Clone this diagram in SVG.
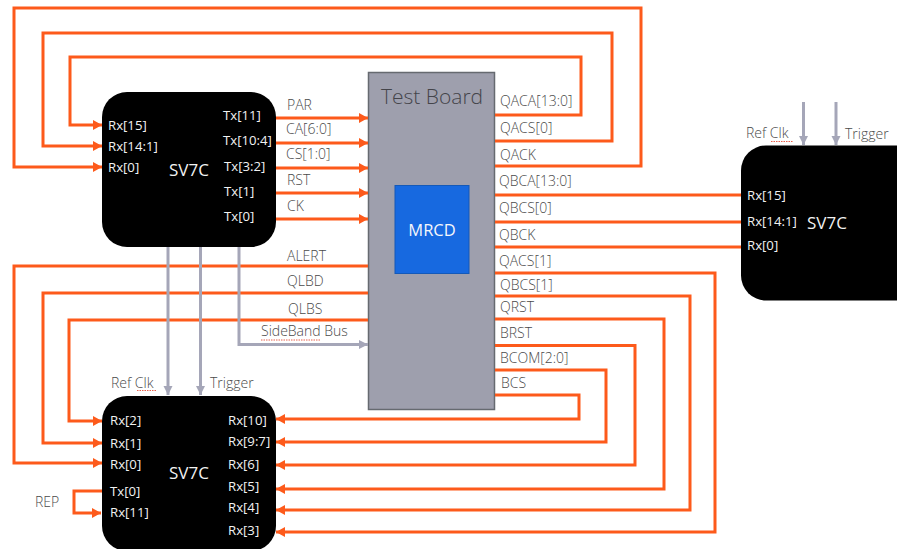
<svg xmlns="http://www.w3.org/2000/svg" width="897" height="549" viewBox="0 0 897 549">
<style>
text{font-family:"Open Sans","Noto Sans","Liberation Sans",sans-serif;font-size:13.200px}
.l{fill:#4a4a4a;font-size:14px;font-weight:300}
.w{fill:#f2f2f2}
.o{fill:none;stroke:#fd5a1b;stroke-width:3;stroke-linejoin:miter}
.g{fill:none;stroke:#a5a6b8;stroke-width:3}
.s{fill:none;stroke:#e8604c;stroke-width:1;stroke-dasharray:1.500 1}
.box{fill:#000}
</style>
<defs>
<marker id="ao" markerUnits="userSpaceOnUse" markerWidth="12" markerHeight="12" refX="10" refY="6" orient="auto"><path d="M1 1 L10 6 L1 11Z" fill="#fd5a1b"/></marker>
<marker id="ag" markerUnits="userSpaceOnUse" markerWidth="12" markerHeight="12" refX="10" refY="5" orient="auto"><path d="M1 0.500 L10 5 L1 9.500Z" fill="#a5a6b8"/></marker>
</defs>
<g id="board"><rect x="368.500" y="72.500" width="126" height="337" fill="#9e9fad" stroke="#666a70" stroke-width="1.500"/>
<text x="381" y="104" style="font-size:21px;font-weight:300" fill="#44444a">Test Board</text></g>
<g id="mrcd"><rect x="395" y="185.500" width="74" height="88" fill="#1769e0" stroke="#1459b8"/>
<text x="432" y="236" text-anchor="middle" style="font-size:16.500px" fill="#f4f6fb">MRCD</text></g>
<g id="sv7c-top"><rect x="102" y="92" width="174" height="155" rx="25" class="box"/>
<text x="189" y="176" text-anchor="middle" style="font-size:17px" class="w">SV7C</text>
<text x="108" y="130" class="w">Rx[15]</text><text x="108" y="151" class="w">Rx[14:1]</text><text x="108" y="172" class="w">Rx[0]</text>
<text x="223" y="120" class="w">Tx[11]</text><text x="223" y="145" class="w">Tx[10:4]</text><text x="224" y="171" class="w">Tx[3:2]</text><text x="224" y="196" class="w">Tx[1]</text><text x="224" y="221" class="w">Tx[0]</text></g>
<g id="sv7c-right"><rect x="741" y="145.500" width="190" height="155" rx="25" class="box"/>
<text x="827" y="229" text-anchor="middle" style="font-size:17px" class="w">SV7C</text>
<text x="747" y="200" class="w">Rx[15]</text><text x="747" y="226" class="w">Rx[14:1]</text><text x="747" y="250" class="w">Rx[0]</text></g>
<g id="sv7c-bottom"><rect x="102" y="396" width="174" height="155" rx="25" class="box"/>
<text x="189" y="479" text-anchor="middle" style="font-size:17px" class="w">SV7C</text>
<text x="110" y="425" class="w">Rx[2]</text><text x="110" y="448" class="w">Rx[1]</text><text x="110" y="469" class="w">Rx[0]</text><text x="110" y="496" class="w">Tx[0]</text><text x="110" y="517" class="w">Rx[11]</text>
<text x="228" y="425" class="w">Rx[10]</text><text x="228" y="446" class="w">Rx[9:7]</text><text x="228" y="469" class="w">Rx[6]</text><text x="228" y="491" class="w">Rx[5]</text><text x="228" y="512" class="w">Rx[4]</text><text x="228" y="535" class="w">Rx[3]</text></g>
<g id="connectors">
<path class="o" marker-end="url(#ao)" d="M495 166H641V8H14V167H102"/>
<path class="o" marker-end="url(#ao)" d="M495 141H612V33H43V146H102"/>
<path class="o" marker-end="url(#ao)" d="M495 115H581V57H70V125H102"/>
<path class="o" marker-end="url(#ao)" d="M276 118H368"/>
<path class="o" marker-end="url(#ao)" d="M276 143H368"/>
<path class="o" marker-end="url(#ao)" d="M276 168H368"/>
<path class="o" marker-end="url(#ao)" d="M276 193H368"/>
<path class="o" marker-end="url(#ao)" d="M276 219H368"/>
<path class="o" marker-end="url(#ao)" d="M368 266H14V463H102"/>
<path class="o" marker-end="url(#ao)" d="M368 293H43V443H102"/>
<path class="o" marker-end="url(#ao)" d="M368 320H69V421H102"/>
<path class="o" d="M495 195H741M495 222H741M495 247H741"/>
<path class="o" marker-end="url(#ao)" d="M495 273H715V532H276"/>
<path class="o" marker-end="url(#ao)" d="M495 296H690V510H276"/>
<path class="o" marker-end="url(#ao)" d="M495 319H664V489H276"/>
<path class="o" marker-end="url(#ao)" d="M495 345.500H635V465H276"/>
<path class="o" marker-end="url(#ao)" d="M495 370H606V442H276"/>
<path class="o" marker-end="url(#ao)" d="M495 395H579V419H276"/>
<path class="o" marker-end="url(#ao)" d="M102 491H74V513H101"/>
<path class="g" marker-end="url(#ag)" d="M168 247V395"/>
<path class="g" marker-end="url(#ag)" d="M200.500 247V395"/>
<path class="g" marker-end="url(#ag)" d="M239 247V344.500H368"/>
<path class="g" marker-end="url(#ag)" d="M803.500 102V145"/>
<path class="g" marker-end="url(#ag)" d="M836 102V145"/>
</g>
<g id="labels">
<text x="287" y="110" class="l">PAR</text><text x="286" y="134" class="l">CA[6:0]</text><text x="286" y="159" class="l">CS[1:0]</text><text x="287" y="185" class="l">RST</text><text x="287" y="211" class="l">CK</text>
<text x="287" y="261" class="l">ALERT</text><text x="287" y="286" class="l">QLBD</text><text x="288" y="314" class="l">QLBS</text><text x="261" y="336" class="l">SideBand Bus</text>
<text x="111" y="388" class="l">Ref Clk</text><text x="210" y="388" class="l">Trigger</text><text x="35" y="507" class="l">REP</text>
<text x="746" y="138" class="l">Ref Clk</text><text x="845" y="139" class="l">Trigger</text>
<text x="500" y="106" class="l">QACA[13:0]</text><text x="500" y="133" class="l">QACS[0]</text><text x="500" y="160" class="l">QACK</text><text x="499" y="186" class="l">QBCA[13:0]</text><text x="499" y="213" class="l">QBCS[0]</text><text x="499" y="240" class="l">QBCK</text><text x="499" y="266" class="l">QACS[1]</text><text x="500" y="290" class="l">QBCS[1]</text><text x="500" y="312" class="l">QRST</text><text x="500" y="338" class="l">BRST</text><text x="500" y="363" class="l">BCOM[2:0]</text><text x="501" y="388" class="l">BCS</text>
<path class="s" d="M137 390.500H157M771 141.500H793M261 340H321"/>
</g>
</svg>
